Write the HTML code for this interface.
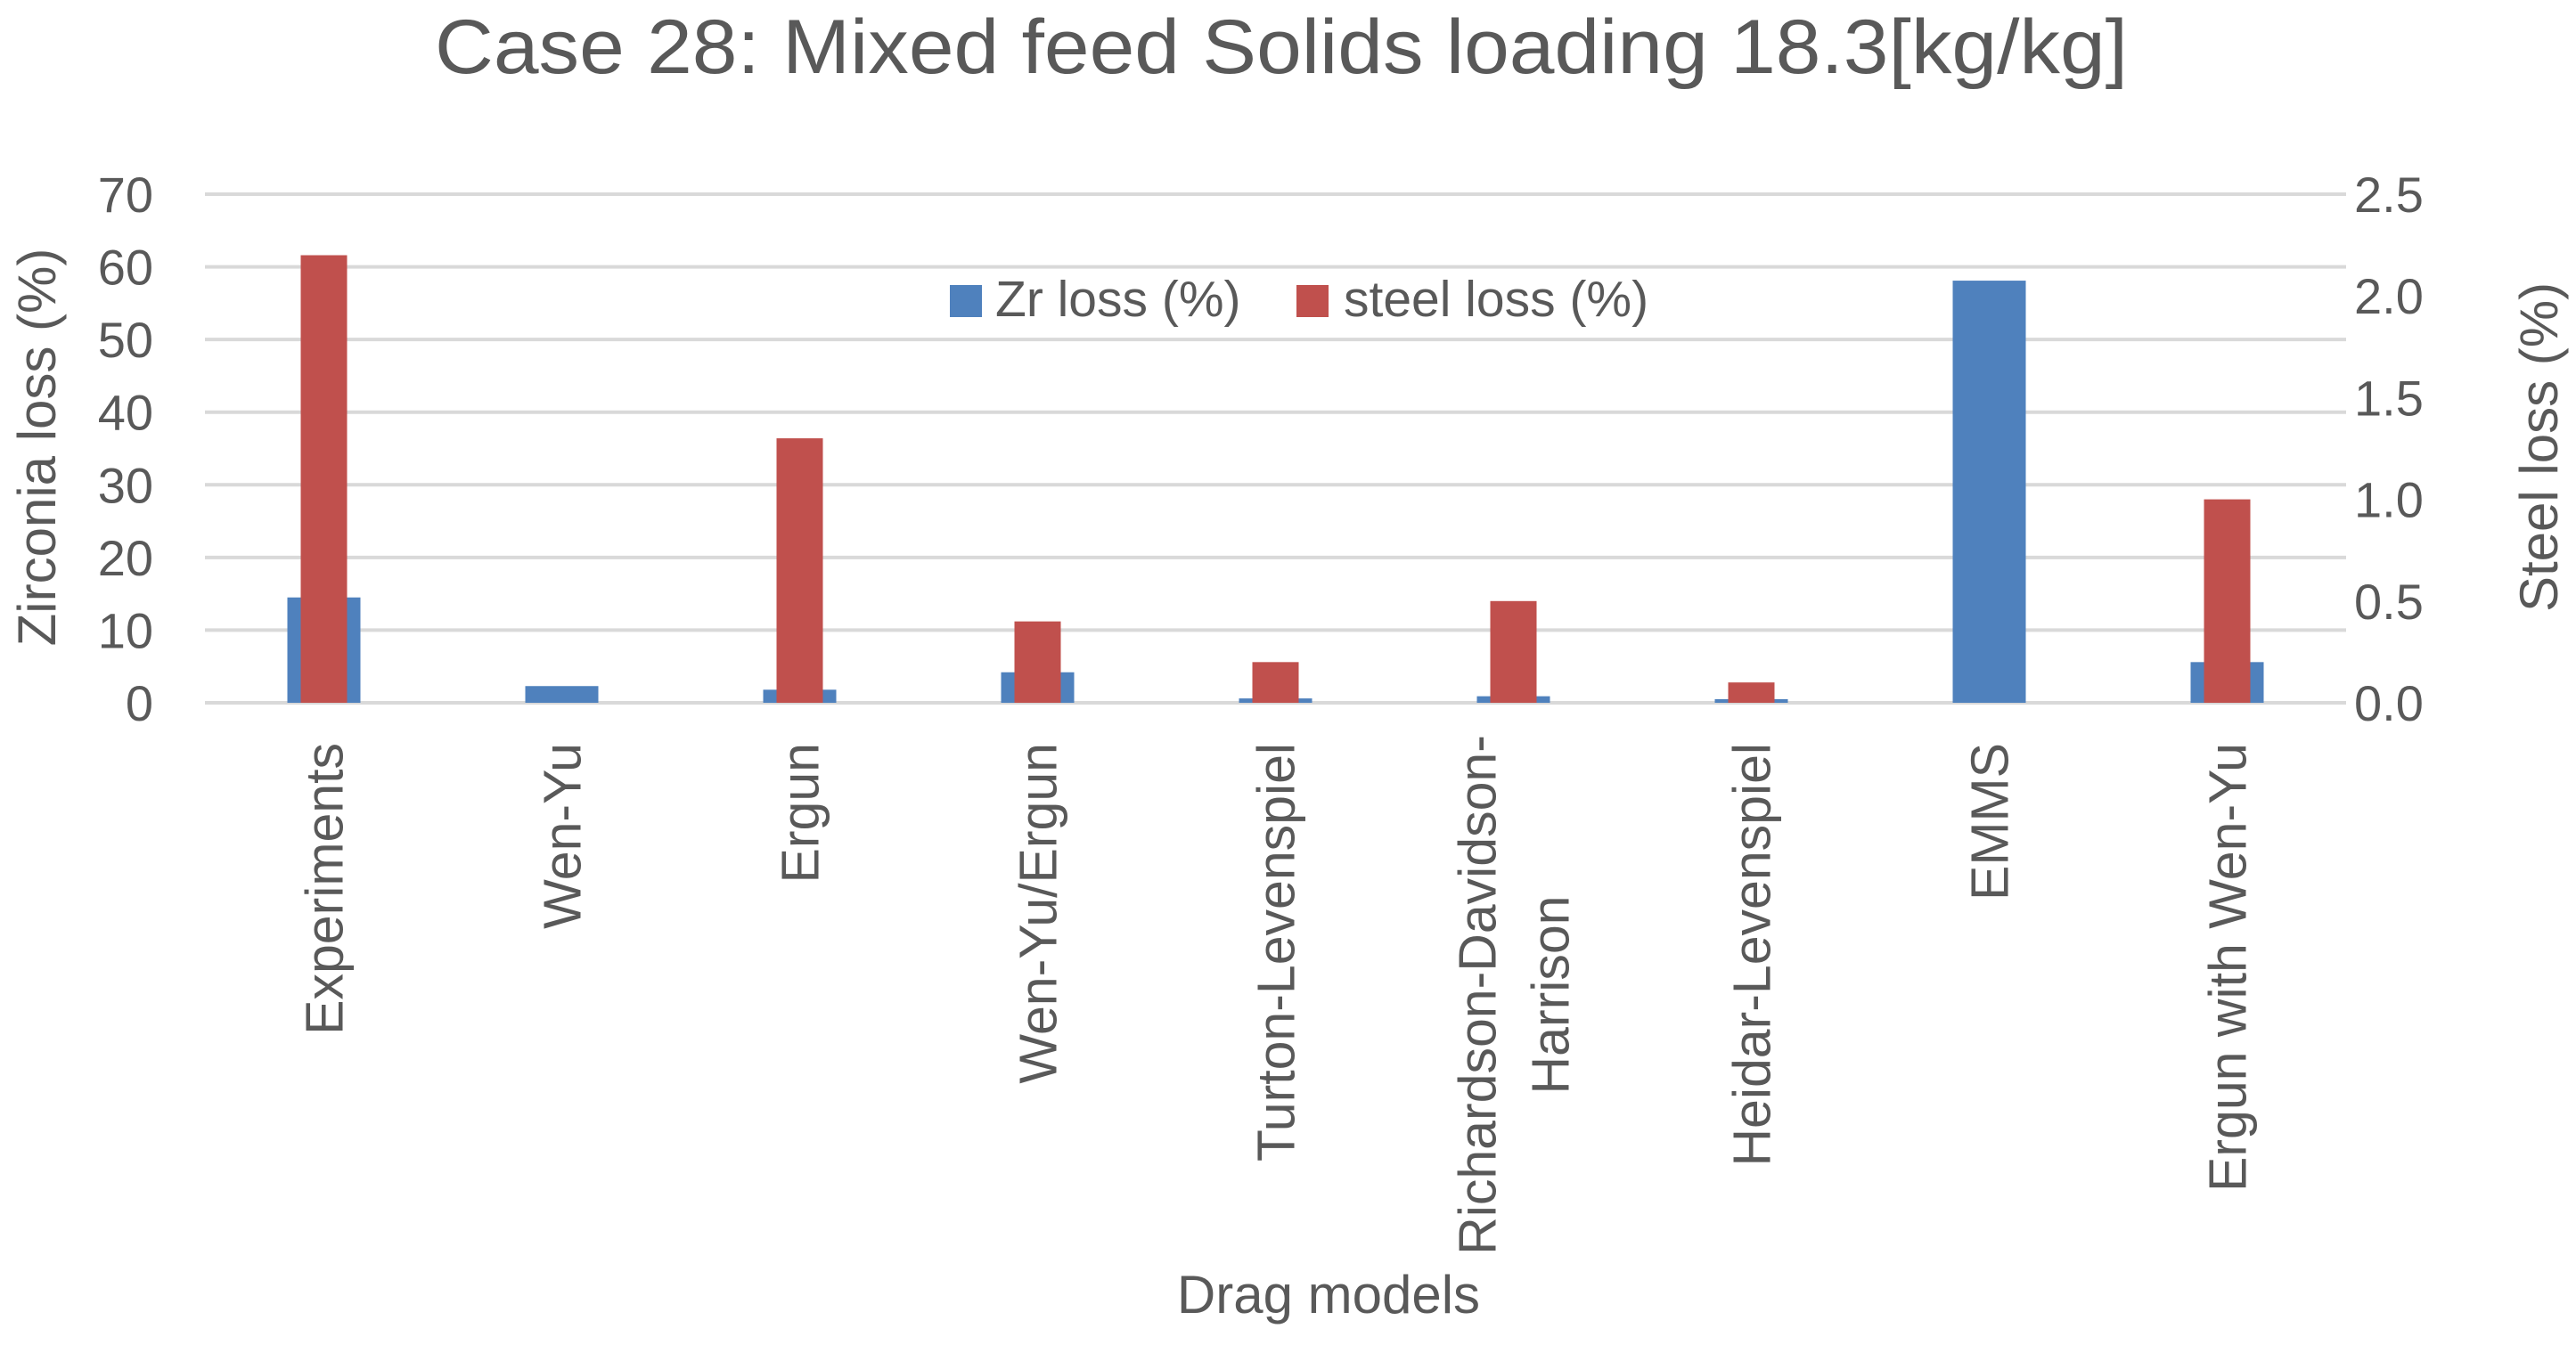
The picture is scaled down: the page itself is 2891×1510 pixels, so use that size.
<!DOCTYPE html>
<html><head><meta charset="utf-8"><style>
html,body{margin:0;padding:0;background:#fff;}
svg{display:block;font-family:"Liberation Sans",sans-serif;fill:#595959;}
</style></head><body>
<svg id="chart" width="2891" height="1510" viewBox="0 0 2891 1510" xmlns="http://www.w3.org/2000/svg">
<rect width="2891" height="1510" fill="#fff"/>
<text x="1438" y="82" font-size="86" text-anchor="middle" textLength="1900" lengthAdjust="spacingAndGlyphs">Case 28: Mixed feed Solids loading 18.3[kg/kg]</text>
<g id="grid"></g>
<g id="bars"></g>
<g id="ticks"></g>
<g id="cats"></g>
<text transform="translate(62,502) rotate(-90)" font-size="60" text-anchor="middle">Zirconia loss (%)</text>
<text transform="translate(2870,502) rotate(-90)" font-size="60" text-anchor="middle">Steel loss (%)</text>
<text x="1491" y="1474" font-size="60" text-anchor="middle">Drag models</text>
<g>
<rect x="1066" y="320" width="36" height="36" fill="#4F81BD"/>
<text x="1117" y="355" font-size="57">Zr loss (%)</text>
<rect x="1455" y="320" width="36" height="36" fill="#C0504D"/>
<text x="1508" y="355" font-size="57">steel loss (%)</text>
</g>
</svg>
<script>
const categories = [["Experiments"],["Wen-Yu"],["Ergun"],["Wen-Yu/Ergun"],["Turton-Levenspiel"],["Richardson-Davidson-","Harrison"],["Heidar-Levenspiel"],["EMMS"],["Ergun with Wen-Yu"]];
const zrLoss = [14.5, 2.3, 1.8, 4.2, 0.6, 0.9, 0.5, 58.1, 5.6];
const steelLoss = [2.2, 0, 1.3, 0.4, 0.2, 0.5, 0.1, 0, 1.0];
const leftTicks = [0,10,20,30,40,50,60,70];
const rightTicks = ["0.0","0.5","1.0","1.5","2.0","2.5"];

const NS="http://www.w3.org/2000/svg";
const X0=230, X1=2633, Y0=789, Y1=218, LMAX=70, RMAX=2.5;
const bw=(X1-X0)/categories.length;
const yL=v=>Y0-(v/LMAX)*(Y0-Y1);
const yR=v=>Y0-(v/RMAX)*(Y0-Y1);
const cx=i=>X0+bw*(i+0.5);
function mk(tag,attrs,parent){const e=document.createElementNS(NS,tag);for(const k in attrs)e.setAttribute(k,attrs[k]);document.getElementById(parent).appendChild(e);return e;}

leftTicks.forEach(t=>{
  const l=mk('line',{x1:X0,x2:X1,y1:yL(t),y2:yL(t),stroke:'#D9D9D9','stroke-width':4},'grid');
  
  
  const tx=mk('text',{x:172,y:yL(t)+20,'font-size':56,'text-anchor':'end'},'ticks');
  tx.textContent=t;
  
  
});
rightTicks.forEach(t=>{
  const tx=mk('text',{x:2642,y:yR(parseFloat(t))+20,'font-size':56},'ticks');
  tx.textContent=t;
  
  
});
categories.forEach((c,i)=>{
  const zb=mk('rect',{x:cx(i)-41,width:82,y:yL(zrLoss[i]),height:Y0-yL(zrLoss[i]),fill:'#4F81BD'},'bars');
  
  
  if(steelLoss[i]>0){
    const sb=mk('rect',{x:cx(i)-26,width:52,y:yR(steelLoss[i]),height:Y0-yR(steelLoss[i]),fill:'#C0504D'},'bars');
    
    
  }
  const n=c.length, lh=82;
  c.forEach((line,j)=>{
    const x=cx(i)+(j-(n-1)/2)*lh+21;
    const anchor = n>1 ? 'middle' : 'end';
    const yy = n>1 ? 834+283 : 834;
    const t=mk('text',{transform:`translate(${x},${yy}) rotate(-90)`,'font-size':59,'text-anchor':anchor},'cats');
    t.textContent=line;
    
    
  });
});
</script>
</body></html>
